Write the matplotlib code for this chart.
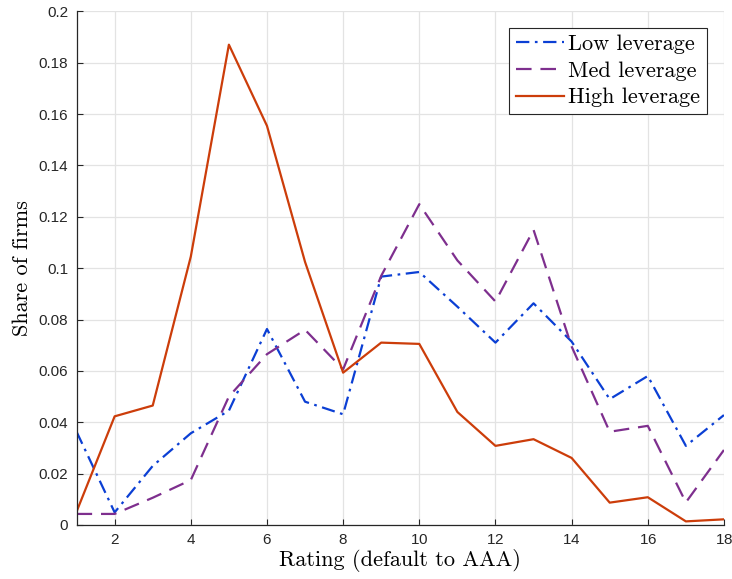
import matplotlib
matplotlib.use("Agg")
import matplotlib.pyplot as plt
from matplotlib.ticker import FuncFormatter

ratings = list(range(1, 19))
low = [0.0363, 0.0049, 0.023, 0.0357, 0.0445, 0.0763, 0.048, 0.0431, 0.0967, 0.0985,
       0.085, 0.071, 0.0863, 0.0714, 0.049, 0.058, 0.0308, 0.0428]
med = [0.0043, 0.0043, 0.0106, 0.0175, 0.050, 0.0665, 0.076, 0.0606, 0.097, 0.1249,
       0.103, 0.087, 0.1149, 0.0695, 0.0363, 0.0386, 0.0088, 0.0292]
high = [0.0052, 0.0423, 0.0465, 0.1045, 0.187, 0.1554, 0.1024, 0.0593, 0.071, 0.0705,
        0.044, 0.0308, 0.0334, 0.0261, 0.0087, 0.0108, 0.0014, 0.0022]
xticks = list(range(2, 19, 2))
yticks = [0, 0.02, 0.04, 0.06, 0.08, 0.1, 0.12, 0.14, 0.16, 0.18, 0.2]

plt.rcParams['mathtext.fontset'] = 'cm'
plt.rcParams['axes.formatter.use_mathtext'] = True

fig = plt.figure(figsize=(7.32, 5.79), dpi=100)
ax = fig.add_axes([0.1046, 0.0933, 0.989 - 0.1046, 0.9805 - 0.0933])

ax.plot(ratings, low, color='#0B3FD4', lw=1.6, linestyle=(0, (6, 2.5, 1.2, 2.5)), label='Low leverage')
ax.plot(ratings, med, color='#7E2F8E', lw=1.6, linestyle=(0, (7, 4)), label='Med leverage')
ax.plot(ratings, high, color='#CC3D0A', lw=1.6, linestyle='-', label='High leverage')

ax.set_xlim(1, 18)
ax.set_ylim(0, 0.2)
ax.set_xticks(xticks)
ax.set_yticks(yticks)
ax.yaxis.set_major_formatter(FuncFormatter(lambda v, p: ('%g' % round(v, 2))))
for lab in ax.get_xticklabels() + ax.get_yticklabels():
    lab.set_family('Liberation Sans')
    lab.set_fontsize(11)
ax.tick_params(direction='in', length=4, width=0.8, colors='#262626', labelcolor='#262626')
ax.tick_params(axis='y', pad=6)
ax.tick_params(axis='x', pad=6)
ax.grid(True, color='#e3e3e3', lw=0.9)
ax.set_axisbelow(True)
for s in ['top', 'right']:
    ax.spines[s].set_visible(False)
for s in ['left', 'bottom']:
    ax.spines[s].set_color('#262626')
    ax.spines[s].set_linewidth(0.9)

ax.set_xlabel('Rating (default to AAA)', family='cmr10', fontsize=16, labelpad=1)
ax.set_ylabel('Share of firms', family='cmr10', fontsize=16, labelpad=5)

leg = ax.legend(loc='upper right', bbox_to_anchor=(0.974, 0.968), prop={'family': 'cmr10', 'size': 16},
                fancybox=False, framealpha=1, edgecolor='#262626', handlelength=2.15,
                borderpad=0.3, labelspacing=0.32, handletextpad=0.22, borderaxespad=0)
leg.get_frame().set_linewidth(0.8)

fig.savefig('out.png', dpi=100)
